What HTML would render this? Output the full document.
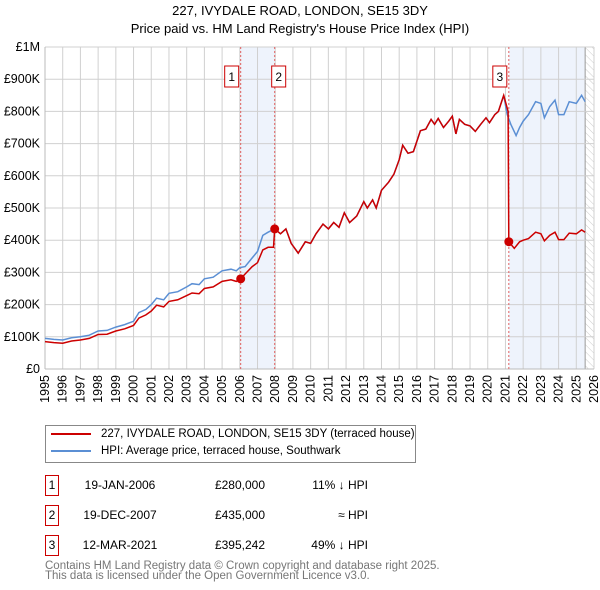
<!DOCTYPE html>
<html><head><meta charset="utf-8"><style>
body{margin:0;width:600px;height:590px;background:#fff;font-family:"Liberation Sans","DejaVu Sans",sans-serif;overflow:hidden;position:relative}
.t{position:absolute;white-space:nowrap}
</style></head><body>
<div class="t" style="left:0;width:600px;text-align:center;top:2px;font-size:13px;line-height:18px;color:#000">227, IVYDALE ROAD, LONDON, SE15 3DY<br>Price paid vs. HM Land Registry's House Price Index (HPI)</div>
<svg id="ch" width="600" height="410" style="position:absolute;left:0;top:0" font-family="Liberation Sans, DejaVu Sans, sans-serif"></svg>
<div style="position:absolute;left:45px;top:425px;width:369px;height:36px;border:1px solid #888">
 <div style="position:absolute;left:5px;top:2px;font-size:11.5px"><span style="display:inline-block;width:40px;height:2px;background:#cc0000;vertical-align:middle;margin-right:10px"></span>227, IVYDALE ROAD, LONDON, SE15 3DY (terraced house)</div>
 <div style="position:absolute;left:5px;top:19px;font-size:11.5px"><span style="display:inline-block;width:40px;height:2px;background:#5b8fd4;vertical-align:middle;margin-right:10px"></span>HPI: Average price, terraced house, Southwark</div>
</div>
<div id="tbl"></div>
<div class="t" style="left:45px;top:561px;font-size:11.5px;line-height:10px;color:#777">Contains HM Land Registry data © Crown copyright and database right 2025.<br>This data is licensed under the Open Government Licence v3.0.</div>
<script>
const hpiYears=[1995.0,1995.5,1996.0,1996.5,1997.0,1997.5,1998.0,1998.5,1999.0,1999.5,2000.0,2000.3,2000.7,2001.0,2001.3,2001.7,2002.0,2002.5,2003.0,2003.3,2003.7,2004.0,2004.5,2005.0,2005.5,2005.8,2006.0,2006.3,2006.7,2007.0,2007.3,2007.6,2007.97,2008.3,2008.6,2008.9,2009.3,2009.7,2010.0,2010.3,2010.7,2011.0,2011.3,2011.6,2011.9,2012.2,2012.6,2013.0,2013.2,2013.5,2013.7,2014.0,2014.4,2014.7,2015.0,2015.2,2015.5,2015.8,2016.2,2016.5,2016.8,2017.0,2017.2,2017.5,2017.8,2018.0,2018.2,2018.4,2018.7,2019.0,2019.3,2019.6,2019.9,2020.1,2020.4,2020.6,2020.9,2021.1,2021.3,2021.6,2021.8,2022.0,2022.3,2022.7,2023.0,2023.2,2023.5,2023.8,2024.0,2024.3,2024.6,2025.0,2025.3,2025.5];
const hpiValues=[95,92,90,97,100,105,118,120,130,138,148,175,185,200,220,215,235,240,255,265,262,280,285,305,310,305,315,318,345,365,415,425,435,420,435,390,360,395,390,420,450,435,455,440,485,455,475,520,500,525,500,555,580,605,650,695,670,675,740,745,775,760,778,750,770,785,730,775,760,755,738,760,780,765,790,800,850,790,760,725,750,770,790,830,825,780,815,835,790,790,830,825,850,830];
const priceYears=[1995.0,1995.5,1996.0,1996.5,1997.0,1997.5,1998.0,1998.5,1999.0,1999.5,2000.0,2000.3,2000.7,2001.0,2001.3,2001.7,2002.0,2002.5,2003.0,2003.3,2003.7,2004.0,2004.5,2005.0,2005.5,2005.8,2006.05,2006.3,2006.7,2007.0,2007.3,2007.6,2007.9,2007.97,2008.3,2008.6,2008.9,2009.3,2009.7,2010.0,2010.3,2010.7,2011.0,2011.3,2011.6,2011.9,2012.2,2012.6,2013.0,2013.2,2013.5,2013.7,2014.0,2014.4,2014.7,2015.0,2015.2,2015.5,2015.8,2016.2,2016.5,2016.8,2017.0,2017.2,2017.5,2017.8,2018.0,2018.2,2018.4,2018.7,2019.0,2019.3,2019.6,2019.9,2020.1,2020.4,2020.6,2020.9,2021.15,2021.19,2021.5,2021.8,2022.0,2022.3,2022.7,2023.0,2023.2,2023.5,2023.8,2024.0,2024.3,2024.6,2025.0,2025.3,2025.5];
const priceValues=[85,82,80,87,90,95,107,108,118,125,135,158,168,180,198,193,210,215,228,236,234,250,255,272,277,272,280,295,318,330,370,378,378,435,420,435,390,360,395,390,420,450,435,455,440,485,455,475,520,500,525,500,555,580,605,650,695,670,675,740,745,775,760,778,750,770,785,730,775,760,755,738,760,780,765,790,800,850,800,395,375,395,400,405,425,420,398,415,425,402,402,422,420,432,425];
const saleLabels=["1","2","3"];
const saleYears=[2006.05,2007.97,2021.19];
const saleValues=[280,435,395.242];
const saleDates=["19-JAN-2006","19-DEC-2007","12-MAR-2021"];
const salePrices=["£280,000","£435,000","£395,242"];
const saleRel=["11% ↓ HPI","≈ HPI","49% ↓ HPI"];
const yTicks=[0,100,200,300,400,500,600,700,800,900,1000];
const yTickLabels=["£0","£100K","£200K","£300K","£400K","£500K","£600K","£700K","£800K","£900K","£1M"];
const xTicks=[];for(let y=1995;y<=2026;y++)xTicks.push(y);

const L=45,R=594,T=47,B=369;
const x=v=>L+(v-1995)/31*(R-L);
const y=v=>B-v/1000*(B-T);
const NS="http://www.w3.org/2000/svg";
const svg=document.getElementById('ch');
function mk(tag,at,parent){const e=document.createElementNS(NS,tag);for(const k in at)e.setAttribute(k,at[k]);(parent||svg).appendChild(e);return e;}

let s1=mk('rect',{x:x(saleYears[0]),y:T,width:x(saleYears[1])-x(saleYears[0]),height:B-T,fill:'#eef3fc'});


let s2=mk('rect',{x:x(saleYears[2]),y:T,width:x(2025.5)-x(saleYears[2]),height:B-T,fill:'#eef3fc'});


const defs=mk('defs',{});
const pat=mk('pattern',{id:'h',width:5,height:5,patternUnits:'userSpaceOnUse',patternTransform:'rotate(-45)'},defs);
mk('line',{x1:0,y1:0,x2:0,y2:5,stroke:'#ccc','stroke-width':1},pat);
let hz=mk('rect',{x:x(2025.5),y:T,width:R-x(2025.5),height:B-T,fill:'url(#h)'});


mk('line',{x1:x(2025.5),y1:T,x2:x(2025.5),y2:B,stroke:'#999','stroke-width':1});
xTicks.forEach(t=>{mk('line',{x1:x(t),y1:T,x2:x(t),y2:B,stroke:'#d0d0d0','stroke-width':1});
 const lb=mk('text',{x:0,y:0,transform:`translate(${x(t)+4},${B+6}) rotate(-90)`,'text-anchor':'end','font-size':12.5,fill:'#000'});lb.textContent=t;
 
 });
yTicks.forEach((t,i)=>{mk('line',{x1:L,y1:y(t),x2:R,y2:y(t),stroke:'#d0d0d0','stroke-width':1});
 const lb=mk('text',{x:40,y:y(t)+4,'text-anchor':'end','font-size':12.5,fill:'#000'});lb.textContent=yTickLabels[i];
 
 });
mk('line',{x1:L,y1:B,x2:R,y2:B,stroke:'#bbb'});
mk('line',{x1:L,y1:T,x2:L,y2:B,stroke:'#bbb'});
saleYears.forEach((sy,i)=>{mk('line',{x1:x(sy),y1:T,x2:x(sy),y2:B,stroke:'#e06060','stroke-width':1,'stroke-dasharray':'2,2'});
 const bx=x(sy)-(i==1?-4:9)-7;
 const g=mk('g',{});
 
 
 mk('rect',{x:bx,y:66,width:14,height:21,fill:'#fff',stroke:'#cc0000'},g);
 const tt=mk('text',{x:bx+7,y:81,'text-anchor':'middle','font-size':12},g);tt.textContent=saleLabels[i];});
const pts=(xs,vs)=>xs.map((v,i)=>x(v).toFixed(1)+','+y(vs[i]).toFixed(1)).join(' ');
const hl=mk('polyline',{points:pts(hpiYears,hpiValues),fill:'none',stroke:'#5b8fd4','stroke-width':1.5});


const pl=mk('polyline',{points:pts(priceYears,priceValues),fill:'none',stroke:'#cc0000','stroke-width':1.5});


saleYears.forEach((sy,i)=>{const c=mk('circle',{cx:x(sy),cy:y(saleValues[i]),r:4.5,fill:'#cc0000'});
 
 });
const tb=document.getElementById('tbl');
saleLabels.forEach((lab,i)=>{const top=475+i*30;
 const r=document.createElement('div');
 
 
 r.style.cssText=`position:absolute;left:0;top:${top}px;width:600px;height:22px;font-size:12px`;
 r.innerHTML=`<div style="position:absolute;left:45px;top:0;width:12px;height:19px;border:1px solid #cc0000;text-align:center;line-height:19px">${lab}</div>`+
 `<div style="position:absolute;left:70px;width:100px;text-align:center;line-height:21px">${saleDates[i]}</div>`+
 `<div style="position:absolute;left:190px;width:75px;text-align:right;line-height:21px">${salePrices[i]}</div>`+
 `<div style="position:absolute;left:290px;width:78px;text-align:right;line-height:21px">${saleRel[i]}</div>`;
 tb.appendChild(r);});
</script>
</body></html>
